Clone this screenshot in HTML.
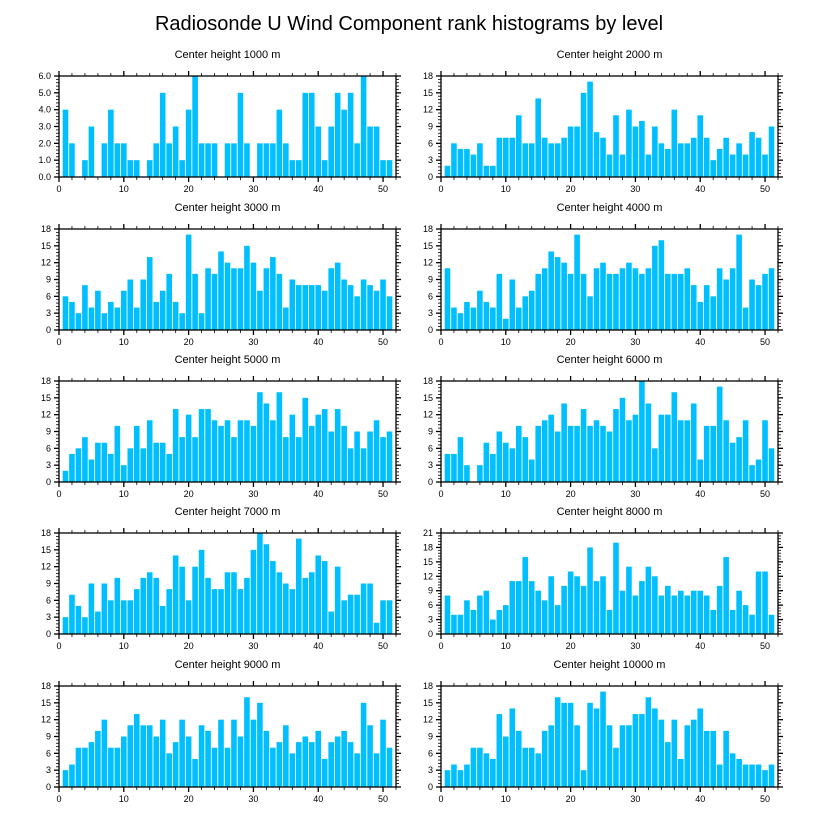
<!DOCTYPE html>
<html><head><meta charset="utf-8"><style>
body{margin:0;background:#fff;}
svg{display:block;font-family:"Liberation Sans",sans-serif;}
</style></head><body>
<svg id="chart" width="818" height="824">
<text x="409" y="30" text-anchor="middle" font-size="20">Radiosonde U Wind Component rank histograms by level</text>
</svg>
<script>
const panelTitles = ["Center height 1000 m","Center height 2000 m","Center height 3000 m","Center height 4000 m","Center height 5000 m","Center height 6000 m","Center height 7000 m","Center height 8000 m","Center height 9000 m","Center height 10000 m"];
const yMaxes = [6,18,18,18,18,18,18,21,18,18];
const yTickSteps = [1,3,3,3,3,3,3,3,3,3];
const xTicks = [0,10,20,30,40,50];
const counts1000 = [4,2,0,1,3,0,2,4,2,2,1,1,0,1,2,5,2,3,1,4,6,2,2,2,0,2,2,5,2,0,2,2,2,4,2,1,1,5,5,3,1,3,5,4,5,2,6,3,3,1,1];
const counts2000 = [2,6,5,5,4,6,2,2,7,7,7,11,6,6,14,7,6,6,7,9,9,15,17,8,7,4,11,4,12,9,10,4,9,6,5,12,6,6,7,11,7,3,5,7,4,6,4,8,7,4,9];
const counts3000 = [6,5,3,8,4,7,3,5,4,7,9,4,9,13,5,7,10,5,3,17,10,3,11,10,14,12,11,11,15,12,7,11,13,10,4,9,8,8,8,8,7,11,12,9,8,6,9,8,7,9,6];
const counts4000 = [11,4,3,5,4,7,5,4,10,2,9,4,6,7,10,11,14,13,12,10,17,10,6,11,12,10,10,11,12,11,10,11,15,16,10,10,10,11,8,5,8,6,11,9,11,17,4,9,8,10,11];
const counts5000 = [2,5,6,8,4,7,7,5,10,3,6,10,6,11,7,7,5,13,8,12,8,13,13,11,10,11,8,11,11,10,16,14,11,16,8,12,8,15,10,12,13,9,13,10,6,9,6,9,11,8,9];
const counts6000 = [5,5,8,3,0,3,7,5,9,7,6,10,8,4,10,11,12,9,14,10,10,13,10,11,10,9,13,15,11,12,18,14,6,12,12,16,11,11,14,4,10,10,17,11,7,8,11,3,4,11,6];
const counts7000 = [3,7,5,3,9,4,9,6,10,6,6,8,10,11,10,5,8,14,12,6,12,15,10,8,8,11,11,8,10,15,18,16,13,11,9,8,17,10,11,14,13,4,12,6,7,7,9,9,2,6,6];
const counts8000 = [8,4,4,7,5,8,9,3,5,6,11,11,16,11,9,7,12,6,10,13,12,10,18,11,12,5,19,9,14,8,11,14,12,8,10,8,9,8,9,9,8,5,10,16,5,9,6,4,13,13,4];
const counts9000 = [3,4,7,7,8,10,12,7,7,9,11,13,11,11,9,12,6,8,12,9,5,11,10,7,12,7,12,9,16,12,15,10,7,8,11,6,8,9,8,10,5,8,9,10,8,6,15,11,6,12,7];
const counts10000 = [3,4,3,4,7,7,6,5,13,9,14,10,7,7,6,10,11,16,15,15,11,3,15,14,17,11,7,11,11,13,13,16,14,12,8,12,5,11,12,14,10,10,4,10,6,5,4,4,4,3,4];
const allCounts = [counts1000,counts2000,counts3000,counts4000,counts5000,counts6000,counts7000,counts8000,counts9000,counts10000];

const NS="http://www.w3.org/2000/svg";
const svg=document.getElementById('chart');
function mk(tag,attrs,parent){const e=document.createElementNS(NS,tag);for(const k in attrs)e.setAttribute(k,attrs[k]);(parent||svg).appendChild(e);return e;}
const colX=[59,441], rowY=[76,229,381,533,686], W=337, H=101, XMAX=52;
allCounts.forEach((data,i)=>{
  const px=colX[i%2], py=rowY[Math.floor(i/2)];
  const ymax=yMaxes[i], step=yTickSteps[i];
  const g=mk('g',{});
  
  
  const xs=v=>px+v/XMAX*W, ys=v=>py+H-v/ymax*H;
  const t=mk('text',{x:px+W/2,y:py-18,'text-anchor':'middle','font-size':'11'},g);
  t.textContent=panelTitles[i];
  
  
  data.forEach((v,k)=>{
    if(v<=0)return;
    const r=mk('rect',{x:xs(k+1)-2.8,y:ys(v),width:5.6,height:ys(0)-ys(v),fill:'#00BFFF'},g);
    
    
  });
  // axes box
  const box=mk('rect',{x:px,y:py,width:W,height:H,fill:'none',stroke:'#000','stroke-width':1.3},g);
  
  
  // x ticks
  for(let v=0;v<=XMAX;v+=2){
    const maj=v%10===0, L=maj?5:3, x=xs(v);
    mk('line',{x1:x,x2:x,y1:py+H,y2:py+H+L,stroke:'#000','stroke-width':maj?1.3:0.8},g);
    mk('line',{x1:x,x2:x,y1:py,y2:py-L,stroke:'#000','stroke-width':maj?1.3:0.8},g);
  }
  xTicks.forEach(v=>{
    const tl=mk('text',{x:xs(v),y:py+H+15,'text-anchor':'middle','font-size':'9'},g);
    tl.textContent=v;
    
    
  });
  // y ticks
  const minor=step/5;
  for(let j=0;j<=Math.round(ymax/minor);j++){
    const v=j*minor, maj=j%5===0, L=maj?5:3, y=ys(v);
    mk('line',{x1:px,x2:px-L,y1:y,y2:y,stroke:'#000','stroke-width':maj?1.3:0.8},g);
    mk('line',{x1:px+W,x2:px+W+L,y1:y,y2:y,stroke:'#000','stroke-width':maj?1.3:0.8},g);
  }
  for(let v=0;v<=ymax+1e-9;v+=step){
    const tl=mk('text',{x:px-8,y:ys(v)+3,'text-anchor':'end','font-size':'9'},g);
    tl.textContent=ymax<=6?v.toFixed(1):v;
    
    
  }
});
</script>
</body></html>
